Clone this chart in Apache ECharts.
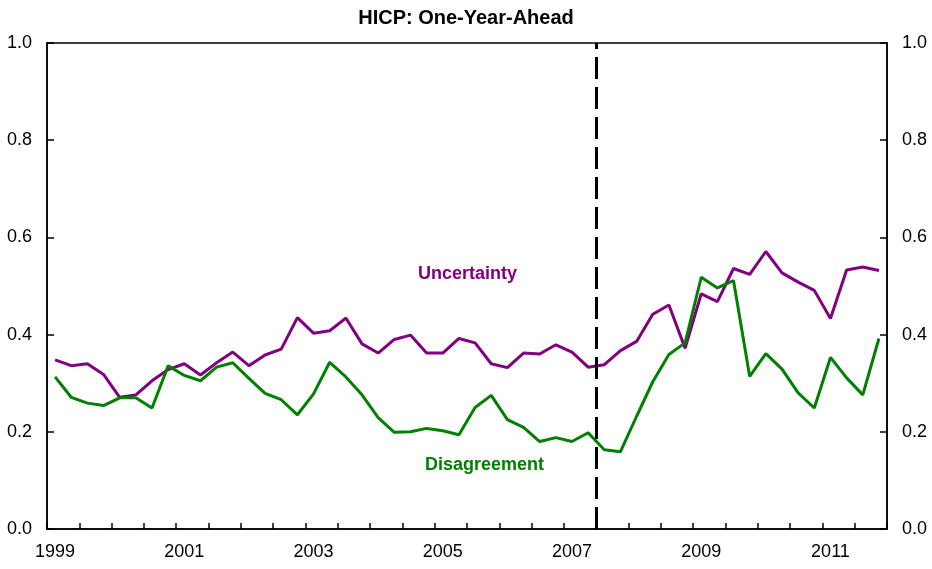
<!DOCTYPE html>
<html>
<head>
<meta charset="utf-8">
<script src="https://cdn.jsdelivr.net/npm/echarts@6/dist/echarts.min.js"></script>
<style>
  html, body { margin: 0; padding: 0; background: #fff; }
  #chart { width: 932px; height: 569px; }
</style>
</head>
<body>
<div id="chart"></div>
<script>
// quarterly categories 1999Q1 .. 2011Q4
var years = [1999, 2000, 2001, 2002, 2003, 2004, 2005, 2006, 2007, 2008, 2009, 2010, 2011];
var quarters = [];
years.forEach(function (y) {
  [1, 2, 3, 4].forEach(function (q) { quarters.push(y + 'Q' + q); });
});

// values
var uncertainty = [
  0.348, 0.336, 0.340, 0.318, 0.271, 0.276, 0.305, 0.328,
  0.340, 0.317, 0.342, 0.364, 0.336, 0.358, 0.370, 0.435,
  0.403, 0.408, 0.434, 0.381, 0.362, 0.390, 0.399, 0.362,
  0.362, 0.392, 0.383, 0.340, 0.332, 0.362, 0.360, 0.379,
  0.364, 0.333, 0.338, 0.367, 0.386, 0.442, 0.461, 0.372,
  0.484, 0.468, 0.536, 0.524, 0.571, 0.527, 0.508, 0.491,
  0.433, 0.533, 0.539, 0.532
];
var disagreement = [
  0.313, 0.271, 0.259, 0.254, 0.270, 0.270, 0.249, 0.336,
  0.316, 0.305, 0.333, 0.342, 0.310, 0.279, 0.266, 0.235,
  0.278, 0.343, 0.313, 0.276, 0.229, 0.199, 0.200, 0.207,
  0.202, 0.194, 0.250, 0.275, 0.225, 0.209, 0.180, 0.188,
  0.180, 0.198, 0.163, 0.159, 0.232, 0.303, 0.359, 0.383,
  0.518, 0.496, 0.511, 0.314, 0.361, 0.329, 0.280, 0.249,
  0.353, 0.311, 0.276, 0.392
];
var breakQuarter = '2007Q3';
var breakIndex = quarters.indexOf(breakQuarter);

var chart = echarts.init(document.getElementById('chart'));

var yAxisCommon = {
  type: 'value',
  min: 0,
  max: 1,
  interval: 0.2,
  splitLine: { show: false },
  axisLine: { show: true, lineStyle: { color: '#000', width: 1.5 } },
  axisTick: { show: true, inside: true, length: 7, lineStyle: { color: '#000', width: 1.5 } },
  axisLabel: {
    color: '#000',
    fontSize: 18,
    fontFamily: 'Liberation Sans, Arial, sans-serif',
    formatter: function (v) { return v.toFixed(1); }
  }
};

var option = {
  animation: false,
  backgroundColor: '#fff',
  title: {
    text: 'HICP: One-Year-Ahead',
    left: 'center',
    top: 3,
    textStyle: { color: '#000', fontSize: 20, fontWeight: 'bold', fontFamily: 'Liberation Sans, Arial, sans-serif' }
  },
  grid: {
    left: 47, right: 45, top: 43, bottom: 40,
    show: true, borderColor: '#000', borderWidth: 1.5, backgroundColor: '#fff'
  },
  xAxis: [{
    type: 'category',
    data: quarters,
    boundaryGap: true,
    axisLine: { lineStyle: { color: '#000', width: 1.5 } },
    axisTick: { show: true, inside: true, length: 6, interval: 1, lineStyle: { color: '#000', width: 1.5 } },
    axisLabel: {
      color: '#000',
      fontSize: 18,
      margin: 14,
      fontFamily: 'Liberation Sans, Arial, sans-serif',
      interval: function (i, v) {
        return v.slice(4) === 'Q1' && (+v.slice(0, 4)) % 2 === 1;
      },
      formatter: function (v) { return v.slice(0, 4); }
    }
  }, {
    type: 'value',
    min: 0,
    max: quarters.length,
    show: false
  }],
  yAxis: [
    Object.assign({ position: 'left' }, yAxisCommon, { axisLabel: Object.assign({}, yAxisCommon.axisLabel, { margin: 15 }) }),
    Object.assign({ position: 'right' }, yAxisCommon, { axisLabel: Object.assign({}, yAxisCommon.axisLabel, { margin: 15 }) })
  ],
  graphic: [
    {
      type: 'text', left: 418, top: 265,
      style: { text: 'Uncertainty', fill: '#800080', font: 'bold 18px "Liberation Sans", Arial, sans-serif' }
    },
    {
      type: 'text', left: 425, top: 456,
      style: { text: 'Disagreement', fill: '#008000', font: 'bold 18px "Liberation Sans", Arial, sans-serif' }
    }
  ],
  series: [
    {
      name: 'Uncertainty',
      type: 'line',
      data: uncertainty,
      symbol: 'none',
      lineStyle: { color: '#800080', width: 3 },
      itemStyle: { color: '#800080' },
      z: 3
    },
    {
      name: 'Disagreement',
      type: 'line',
      data: disagreement,
      symbol: 'none',
      lineStyle: { color: '#008000', width: 3 },
      itemStyle: { color: '#008000' },
      z: 3
    },
    {
      // vertical dashed break line
      type: 'line',
      xAxisIndex: 1,
      data: [],
      markLine: {
        silent: true,
        symbol: 'none',
        label: { show: false },
        lineStyle: { color: '#000', width: 3, type: [22, 8] },
        data: [{ xAxis: breakIndex }]
      }
    }
  ]
};

chart.setOption(option);
</script>
</body>
</html>
